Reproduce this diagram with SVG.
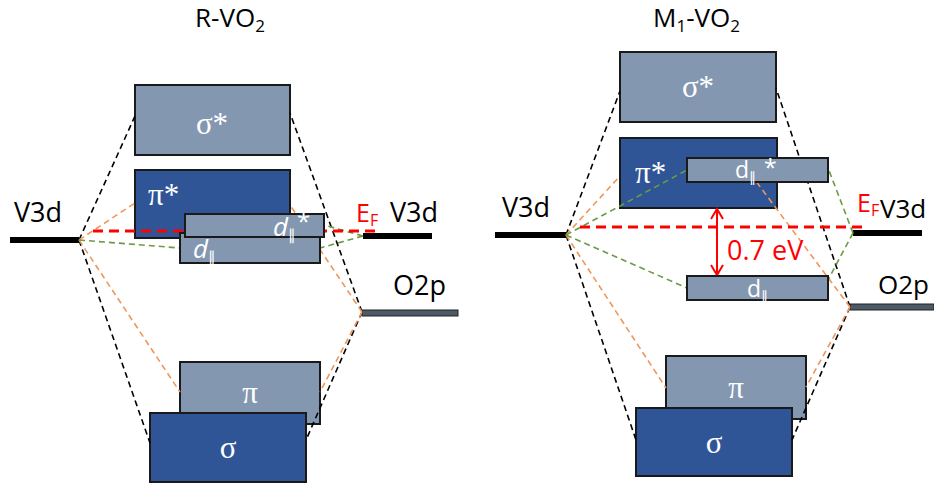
<svg xmlns="http://www.w3.org/2000/svg" width="934" height="485" viewBox="0 0 934 485">
  <style>
    .lbl { font-family: "Open Sans", "Liberation Sans", sans-serif; fill: #000; }
    .ttl { font-family: "Open Sans", "Liberation Sans", sans-serif; font-size: 26px; fill: #000; }
    .grk { font-family: "Liberation Serif", "DejaVu Serif", serif; font-size: 31px; fill: #fff; }
    .dl { font-family: "Open Sans", "Liberation Sans", sans-serif; fill: #fff; }
    .red { fill: #ff0000; }
    .light { fill: #8497b0; stroke: #1a1a1a; stroke-width: 2; }
    .dark { fill: #2f5597; stroke: #1a1a1a; stroke-width: 2; }
    .lvl { stroke: #000; stroke-width: 6; }
    .o2p { fill: #4d5966; stroke: #222; stroke-width: 1; }
    .k { stroke: #000; stroke-width: 1.6; stroke-dasharray: 6 4; fill: none; }
    .o { stroke: #f0965a; stroke-width: 1.6; stroke-dasharray: 6 4; fill: none; }
    .g { stroke: #6b9a45; stroke-width: 1.6; stroke-dasharray: 6 4; fill: none; }
    .ef { stroke: #ff0000; stroke-width: 3; stroke-dasharray: 10 6; fill: none; }
  </style>

  <!-- ===== Rutile phase ===== -->
  <text class="ttl" x="195" y="27">R-VO<tspan font-size="17" dy="5">2</tspan></text>

  <g id="r-sigma-star"><rect class="light" x="135" y="85" width="155" height="70"/><text class="grk" x="212" y="134" text-anchor="middle">σ*</text></g>
  <g id="r-pi-star"><rect class="dark" x="135" y="170" width="155" height="68"/><text class="grk" x="148" y="205">π*</text></g>
  <g id="r-pi"><rect class="light" x="180" y="362" width="140" height="62"/><text class="grk" x="250" y="403" text-anchor="middle">π</text></g>
  <g id="r-sigma"><rect class="dark" x="150" y="413" width="156" height="69"/><text class="grk" x="228" y="458" text-anchor="middle">σ</text></g>

  <g id="r-v3d-left"><line class="lvl" x1="10" y1="240" x2="79" y2="240"/><text class="lbl" x="14" y="222" font-size="27">V3d</text></g>
  <g id="r-v3d-right"><line class="lvl" x1="363" y1="236" x2="432" y2="236"/><text class="lbl" x="390" y="222" font-size="27">V3d</text></g>
  <g id="r-o2p"><rect class="o2p" x="362" y="310" width="96" height="6"/><text class="lbl" x="393" y="295" font-size="27">O2p</text></g>

  <g id="r-connectors">
    <line class="k" x1="79" y1="240" x2="135" y2="116"/>
    <line class="k" x1="79" y1="240" x2="150" y2="443"/>
    <line class="k" x1="362" y1="312" x2="290" y2="113"/>
    <line class="k" x1="362" y1="312" x2="306" y2="440"/>
    <line class="o" x1="79" y1="240" x2="135" y2="203"/>
    <line class="o" x1="79" y1="240" x2="180" y2="392"/>
    <line class="o" x1="362" y1="312" x2="290" y2="205"/>
    <line class="o" x1="362" y1="312" x2="320" y2="392"/>
    <line class="g" x1="79" y1="240" x2="180" y2="248"/>
    <line class="g" x1="363" y1="236" x2="324" y2="225"/>
    <line class="g" x1="363" y1="236" x2="320" y2="248"/>
    <line class="ef" x1="93" y1="231" x2="376" y2="231"/>
  </g>
  <text class="lbl red" x="356" y="222" font-size="25">E<tspan font-size="16" dy="4">F</tspan></text>

  <g id="r-d-par"><rect class="light" x="180" y="233" width="140" height="30"/><text class="dl" x="193" y="258" font-size="26" font-style="italic">d<tspan font-size="15" dy="4" font-style="normal">∥</tspan></text></g>
  <g id="r-d-par-star"><rect class="light" x="185" y="214" width="139" height="23"/><text class="dl" x="273" y="236" font-size="26" font-style="italic">d<tspan font-size="15" dy="4" font-style="normal">∥</tspan><tspan font-size="24" dy="-10" dx="1" font-style="normal">*</tspan></text></g>

  <!-- ===== Monoclinic phase ===== -->
  <text class="ttl" x="653" y="27">M<tspan font-size="17" dy="5">1</tspan><tspan dy="-5">-VO</tspan><tspan font-size="17" dy="5">2</tspan></text>

  <g id="m-sigma-star"><rect class="light" x="620" y="52" width="156" height="70"/><text class="grk" x="698" y="97" text-anchor="middle">σ*</text></g>
  <g id="m-pi-star"><rect class="dark" x="620" y="138" width="157" height="70"/><text class="grk" x="635" y="183">π*</text></g>
  <g id="m-pi"><rect class="light" x="666" y="356" width="140" height="63"/><text class="grk" x="736" y="398" text-anchor="middle">π</text></g>
  <g id="m-sigma"><rect class="dark" x="636" y="408" width="156" height="68"/><text class="grk" x="714" y="453" text-anchor="middle">σ</text></g>

  <g id="m-v3d-left"><line class="lvl" x1="495" y1="235" x2="566" y2="235"/><text class="lbl" x="502" y="217" font-size="27">V3d</text></g>
  <g id="m-v3d-right"><line class="lvl" x1="853" y1="233" x2="922" y2="233"/><text class="lbl" x="880" y="218" font-size="26">V3d</text></g>
  <g id="m-o2p"><rect class="o2p" x="850" y="304" width="84" height="6"/><text class="lbl" x="878" y="294" font-size="26">O2p</text></g>

  <g id="m-connectors">
    <line class="k" x1="566" y1="235" x2="620" y2="91"/>
    <line class="k" x1="566" y1="235" x2="636" y2="440"/>
    <line class="k" x1="850" y1="307" x2="776" y2="88"/>
    <line class="k" x1="850" y1="307" x2="792" y2="440"/>
    <line class="o" x1="566" y1="235" x2="620" y2="176"/>
    <line class="o" x1="566" y1="235" x2="666" y2="388"/>
    <line class="o" x1="850" y1="307" x2="755" y2="180"/>
    <line class="o" x1="850" y1="307" x2="806" y2="387"/>
    <line class="g" x1="566" y1="235" x2="687" y2="170"/>
    <line class="g" x1="566" y1="235" x2="687" y2="288"/>
    <line class="g" x1="853" y1="233" x2="828" y2="168"/>
    <line class="g" x1="853" y1="233" x2="828" y2="280"/>
    <line class="ef" x1="580" y1="227" x2="862" y2="227"/>
    <!-- gap arrow -->
    <g stroke="#ff0000" stroke-width="2" fill="none">
      <line x1="717" y1="209" x2="717" y2="275"/>
      <polyline points="711,219 717,209 723,219"/>
      <polyline points="711,265 717,275 723,265"/>
    </g>
  </g>
  <text class="lbl red" x="727" y="260" font-size="27">0.7 eV</text>
  <text class="lbl red" x="857" y="212" font-size="25">E<tspan font-size="16" dy="4">F</tspan></text>

  <g id="m-d-par-star"><rect class="light" x="687" y="158" width="141" height="24"/><text class="dl" x="735" y="178" font-size="23">d<tspan font-size="14" dy="4">∥</tspan><tspan font-size="23" dy="-6" dx="8">*</tspan></text></g>
  <g id="m-d-par"><rect class="light" x="687" y="276" width="141" height="24"/><text class="dl" x="747" y="297" font-size="23">d<tspan font-size="14" dy="4">∥</tspan></text></g>
</svg>
